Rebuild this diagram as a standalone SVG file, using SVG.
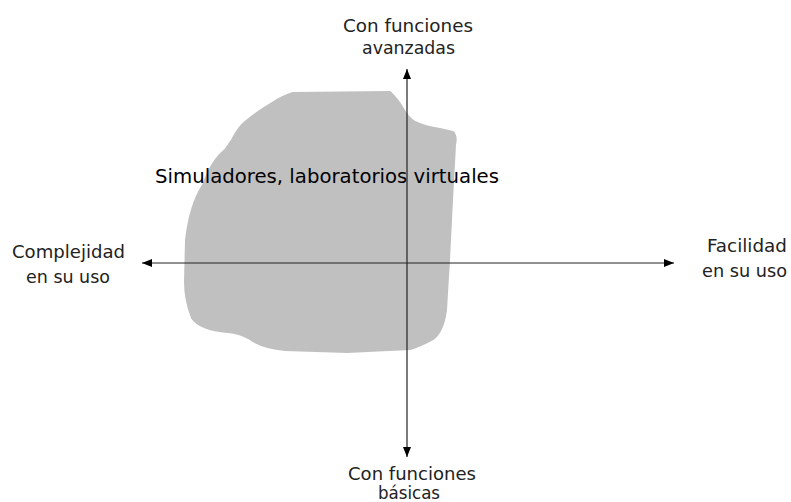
<svg xmlns="http://www.w3.org/2000/svg" width="791" height="502" viewBox="0 0 791 502">
<style>
.lbl{font-family:"DejaVu Sans","Open Sans",sans-serif;font-size:17.5px;fill:#222;text-anchor:middle}
.main{font-family:"DejaVu Sans","Open Sans",sans-serif;font-size:19.5px;fill:#000}
.ax{stroke:#222;stroke-width:1.2;fill:none}
</style>
<defs>
<marker id="ah" viewBox="0 0 10 10" refX="10" refY="5" markerWidth="10" markerHeight="10" markerUnits="userSpaceOnUse" orient="auto">
<path d="M0,1 L10,5 L0,9 z" fill="#000"/>
</marker>
</defs>
<g id="blob">
<path d="M293,93 L390,92 Q398,100 402,107 Q408,118 415,122 Q425,127 440,129 L453,132 Q457,136 455,145 L452,200 L449,260 L446,310 Q443,332 433,339 Q420,346 410,349 L347,352 L285,350 Q262,348 250,339 Q240,333 228,332 Q200,330 192,318 Q185,300 185,282 L186,240 Q190,205 203,185 Q212,160 225,150 L232,140 Q238,128 245,122 Q260,110 272,103 Q283,96 293,93 Z" fill="#c0c0c0" stroke="#c0c0c0" stroke-width="2" stroke-linejoin="round"/>
</g>
<g id="label-main">
<text class="main" x="155" y="183" textLength="344" lengthAdjust="spacingAndGlyphs">Simuladores, laboratorios virtuales</text>
</g>
<g id="connectors">
<line class="ax" x1="407" y1="263" x2="407" y2="69" marker-end="url(#ah)"/>
<line class="ax" x1="407" y1="263" x2="407" y2="457" marker-end="url(#ah)"/>
<line class="ax" x1="407" y1="263" x2="142" y2="263" marker-end="url(#ah)"/>
<line class="ax" x1="407" y1="263" x2="674" y2="263" marker-end="url(#ah)"/>
</g>
<g id="top-label">
<text class="lbl" x="408" y="32" textLength="130" lengthAdjust="spacingAndGlyphs">Con funciones</text>
<text class="lbl" x="408.5" y="54" textLength="93" lengthAdjust="spacingAndGlyphs">avanzadas</text>
</g>
<g id="bottom-label">
<text class="lbl" x="412" y="480" textLength="128" lengthAdjust="spacingAndGlyphs">Con funciones</text>
<text class="lbl" x="409" y="499" textLength="62" lengthAdjust="spacingAndGlyphs">básicas</text>
</g>
<g id="left-label">
<text class="lbl" x="68.5" y="258" textLength="113" lengthAdjust="spacingAndGlyphs">Complejidad</text>
<text class="lbl" x="68" y="283" textLength="84" lengthAdjust="spacingAndGlyphs">en su uso</text>
</g>
<g id="right-label">
<text class="lbl" x="747" y="252" textLength="80" lengthAdjust="spacingAndGlyphs">Facilidad</text>
<text class="lbl" x="744.5" y="277" textLength="85" lengthAdjust="spacingAndGlyphs">en su uso</text>
</g>
</svg>
